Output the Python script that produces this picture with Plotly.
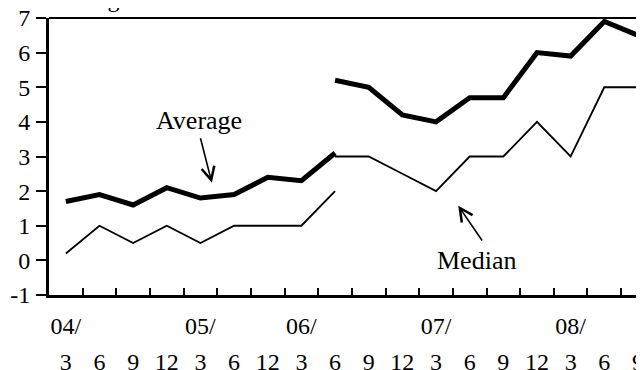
import plotly.graph_objects as go

# ---- data ----
month_labels = ["3", "6", "9", "12", "3", "6", "12", "3", "6", "9", "12",
                "3", "6", "9", "12", "3", "6", "9"]
year_labels = ["04/", "05/", "06/", "07/", "08/"]
year_index = [0, 4, 7, 11, 15]

avg_early = [1.7, 1.9, 1.6, 2.1, 1.8, 1.9, 2.4, 2.3, 3.1]
avg_late = [5.2, 5.0, 4.2, 4.0, 4.7, 4.7, 6.0, 5.9, 6.9, 6.5]
med_early = [0.2, 1.0, 0.5, 1.0, 0.5, 1.0, 1.0, 1.0, 2.0]
med_late = [3.0, 3.0, 2.5, 2.0, 3.0, 3.0, 4.0, 3.0, 5.0, 5.0]

y_ticks = [-1, 0, 1, 2, 3, 4, 5, 6, 7]
y_tick_labels = ["-1", "0", "1", "2", "3", "4", "5", "6", "7"]

# ---- figure ----
n = len(month_labels)
x_idx = list(range(n))
x_early = x_idx[:len(avg_early)]
x_late = x_idx[n - len(avg_late):]

FONT = "Liberation Serif"

fig = go.Figure()
fig.add_trace(go.Scatter(x=x_early, y=avg_early, mode="lines",
                         line=dict(color="black", width=5), showlegend=False))
fig.add_trace(go.Scatter(x=x_late, y=avg_late, mode="lines",
                         line=dict(color="black", width=5), showlegend=False))
fig.add_trace(go.Scatter(x=x_early, y=med_early, mode="lines",
                         line=dict(color="black", width=1.8), showlegend=False))
fig.add_trace(go.Scatter(x=x_late, y=med_late, mode="lines",
                         line=dict(color="black", width=1.8), showlegend=False))

xr = [-0.5, 17.18]
boundaries = [i - 0.5 for i in range(n + 1)]

# the page body has an 8px default margin, so the figure is drawn 8px smaller
fig.update_layout(
    width=636, height=362,
    margin=dict(l=41, r=0, t=10, b=75, autoexpand=False),
    paper_bgcolor="white", plot_bgcolor="white",
    font=dict(family=FONT, size=24, color="black"),
    xaxis=dict(range=xr, showgrid=False, zeroline=False, automargin=False,
               showline=True, linecolor="black", linewidth=3,
               tickmode="array", tickvals=boundaries,
               ticks="inside", ticklen=7, tickwidth=2, tickcolor="black",
               showticklabels=False),
    xaxis2=dict(range=xr, overlaying="x", anchor="y", side="bottom",
                showgrid=False, zeroline=False, showline=False, automargin=False,
                tickmode="array", tickvals=x_idx, ticktext=month_labels,
                ticks="", ticklabelstandoff=50, ticklabeloverflow="allow",
                tickfont=dict(family=FONT, size=24, color="black")),
    xaxis3=dict(range=xr, overlaying="x", anchor="y", side="bottom",
                showgrid=False, zeroline=False, showline=False, automargin=False,
                tickmode="array", tickvals=year_index, ticktext=year_labels,
                ticks="", ticklabelstandoff=14, ticklabeloverflow="allow",
                tickfont=dict(family=FONT, size=24, color="black")),
    yaxis=dict(range=[-1, 7], showgrid=False, zeroline=False, automargin=False,
               showline=True, linecolor="black", linewidth=3,
               tickmode="array", tickvals=y_ticks, ticktext=y_tick_labels,
               ticks="outside", ticklen=10, tickwidth=2, tickcolor="black",
               ticklabelstandoff=1, ticklabeloverflow="allow",
               tickfont=dict(family=FONT, size=24, color="black")),
)

# invisible traces so the overlay axes render
fig.add_trace(go.Scatter(x=[None], y=[None], xaxis="x2", showlegend=False))
fig.add_trace(go.Scatter(x=[None], y=[None], xaxis="x3", showlegend=False))

# top border
fig.add_shape(type="line", xref="paper", yref="paper", x0=0, x1=1, y0=1, y1=1,
              line=dict(color="black", width=2))

# annotations
fig.add_annotation(x=3.96, y=4.03, text="Average", showarrow=False,
                   font=dict(family=FONT, size=26, color="black"))
fig.add_annotation(x=4.34, y=2.24, ax=3.99, ay=3.57, axref="x", ayref="y",
                   text="", showarrow=True, arrowhead=5, arrowsize=1.6,
                   arrowwidth=1.6, arrowcolor="black")
fig.add_annotation(x=12.19, y=0.0, text="Median", showarrow=False,
                   font=dict(family=FONT, size=26, color="black"))
fig.add_annotation(x=11.66, y=1.58, ax=12.40, ay=0.53, axref="x", ayref="y",
                   text="", showarrow=True, arrowhead=5, arrowsize=1.6,
                   arrowwidth=1.6, arrowcolor="black")
fig.add_annotation(xref="paper", yref="paper", x=-0.043, y=1.0, xanchor="left",
                   yanchor="bottom", yshift=4,
                   text="Percentage", showarrow=False,
                   font=dict(family=FONT, size=24, color="black"))

fig.write_html("out.html")
